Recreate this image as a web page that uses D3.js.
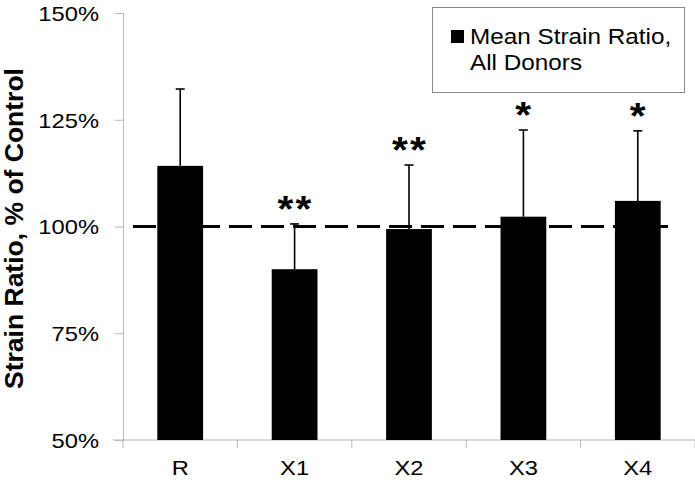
<!DOCTYPE html>
<html>
<head>
<meta charset="utf-8">
<script src="https://cdn.jsdelivr.net/npm/d3@7"></script>
<style>
  html, body { margin: 0; padding: 0; background: #fff; }
  svg { display: block; }
  text { font-family: "Liberation Sans", Arial, sans-serif; fill: #000; }
</style>
</head>
<body>
<svg id="chart" width="695" height="480"></svg>
<script>
const categories = ["R", "X1", "X2", "X3", "X4"];
const meanValues = [114.2, 90.0, 99.4, 102.3, 106.0];
const errorTops = [132.2, 100.6, 114.4, 122.6, 122.4];
const significance = ["", "**", "**", "*", "*"];
const yTicks = [50, 75, 100, 125, 150];
const legendLines = ["Mean Strain Ratio,", "All Donors"];
const controlLevel = 100;

const W = 695, H = 480;
const margin = { left: 123, right: 0, top: 13, bottom: 40 };
const sx = 1.13; // horizontal text stretch of the original

const svg = d3.select("#chart");

const x = d3.scaleBand().domain(categories)
  .range([margin.left, W - margin.right]).paddingInner(0.6).paddingOuter(0.3);
const y = d3.scaleLinear().domain([50, 150]).range([H - margin.bottom, margin.top]);

const axisColor = "#b8b8b8";

// Y axis
const yAxis = d3.axisLeft(y).tickValues(yTicks).tickSize(8).tickPadding(0)
  .tickFormat(d => d + "%");
const gy = svg.append("g").attr("transform", `translate(${margin.left},0)`).call(yAxis);
gy.select(".domain").attr("stroke", axisColor);
gy.selectAll(".tick line").attr("stroke", axisColor).attr("x2", -8);
gy.selectAll(".tick text").remove();
gy.selectAll(".tick").append("text")
  .attr("text-anchor", "end")
  .attr("dy", "0.35em")
  .attr("font-size", 21)
  .attr("transform", `translate(-24,0) scale(${sx},1)`)
  .text(d => d + "%");

// X axis
const xAxisY = y(50);
const bandStep = x.step();
const boundaries = d3.range(categories.length + 1).map(i => margin.left + i * bandStep);
svg.append("line").attr("x1", margin.left - 10).attr("x2", W)
  .attr("y1", xAxisY).attr("y2", xAxisY).attr("stroke", axisColor);
svg.selectAll(".xtick").data(boundaries).enter().append("line")
  .attr("x1", d => d).attr("x2", d => d)
  .attr("y1", xAxisY).attr("y2", xAxisY + 8).attr("stroke", axisColor);
svg.selectAll(".xlab").data(categories).enter().append("text")
  .attr("text-anchor", "middle")
  .attr("font-size", 21)
  .attr("transform", d => `translate(${x(d) + x.bandwidth() / 2},${xAxisY + 35}) scale(${sx},1)`)
  .text(d => d);

// Y title
svg.append("text")
  .attr("transform", `translate(23,${(y(50) + y(150)) / 2 + 2}) rotate(-90)`)
  .attr("text-anchor", "middle")
  .attr("font-size", 26.5)
  .attr("font-weight", "bold")
  .text("Strain Ratio, % of Control");

// Bars
svg.selectAll(".bar").data(categories).enter().append("rect")
  .attr("x", d => x(d))
  .attr("width", x.bandwidth())
  .attr("y", (d, i) => y(meanValues[i]))
  .attr("height", (d, i) => y(50) - y(meanValues[i]))
  .attr("fill", "#000");

// Dashed control line
svg.append("line")
  .attr("x1", 133).attr("x2", 676)
  .attr("y1", y(controlLevel)).attr("y2", y(controlLevel))
  .attr("stroke", "#000").attr("stroke-width", 3)
  .attr("stroke-dasharray", "23,9");

// Error bars (upper only)
const cx = d => x(d) + x.bandwidth() / 2;
svg.selectAll(".err").data(categories).enter().append("line")
  .attr("x1", cx).attr("x2", cx)
  .attr("y1", (d, i) => y(meanValues[i]))
  .attr("y2", (d, i) => y(errorTops[i]))
  .attr("stroke", "#000").attr("stroke-width", 1.6);
svg.selectAll(".cap").data(categories).enter().append("line")
  .attr("x1", d => cx(d) - 4.5).attr("x2", d => cx(d) + 4.5)
  .attr("y1", (d, i) => y(errorTops[i]))
  .attr("y2", (d, i) => y(errorTops[i]))
  .attr("stroke", "#000").attr("stroke-width", 1.6);

// Significance asterisks
svg.selectAll(".sig").data(categories).enter().append("text")
  .attr("text-anchor", "middle")
  .attr("font-size", 36)
  .attr("font-weight", "bold")
  .attr("letter-spacing", 2)
  .attr("transform", (d, i) => `translate(${cx(d) + 1},${y(errorTops[i]) - 2}) scale(${sx},1)`)
  .text((d, i) => significance[i]);

// Legend
const lg = svg.append("g");
lg.append("rect").attr("x", 432.5).attr("y", 7.5).attr("width", 252).attr("height", 85)
  .attr("fill", "#fff").attr("stroke", "#8a8a8a").attr("stroke-width", 1);
lg.append("rect").attr("x", 451).attr("y", 30).attr("width", 13).attr("height", 13).attr("fill", "#000");
lg.selectAll(".lt").data(legendLines).enter().append("text")
  .attr("font-size", 21.5)
  .attr("transform", (d, i) => `translate(470,${44 + i * 26}) scale(${sx},1)`)
  .text(d => d);
</script>
</body>
</html>
